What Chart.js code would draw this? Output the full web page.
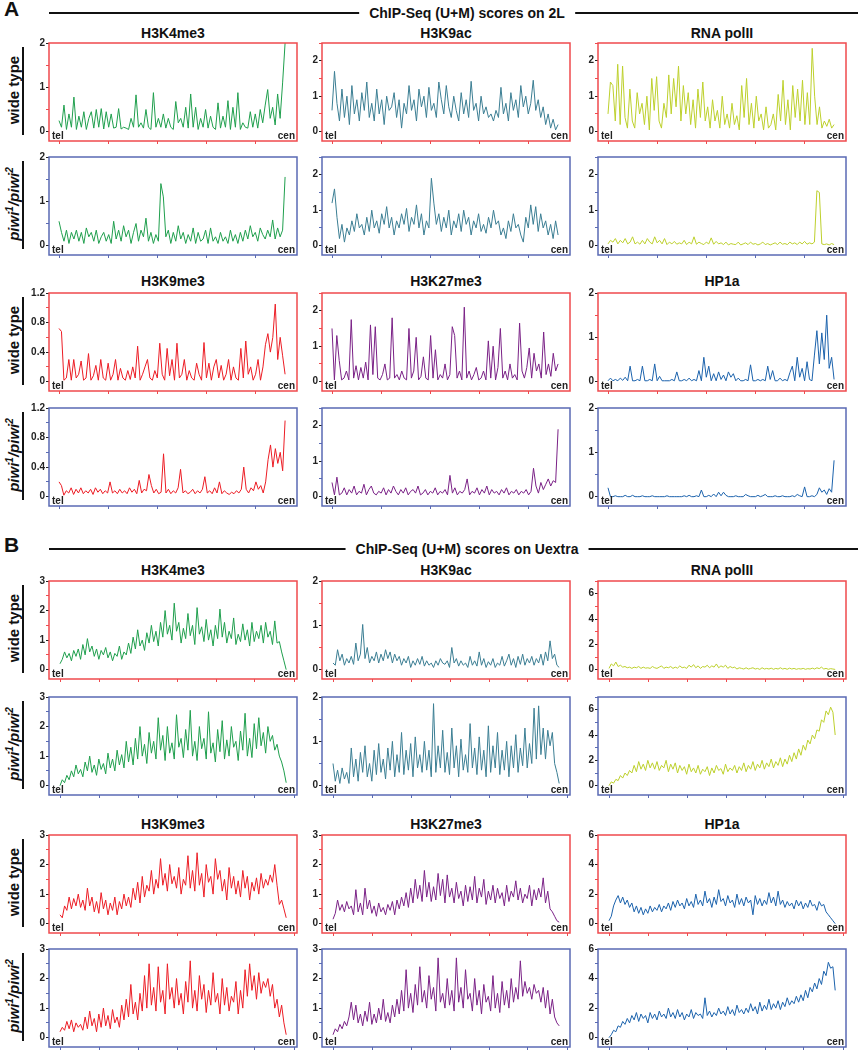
<!DOCTYPE html>
<html>
<head>
<meta charset="utf-8">
<script src="https://cdn.jsdelivr.net/npm/chart.js@4.4.0/dist/chart.umd.min.js"></script>
<style>
  body { margin: 0; background: #fff; font-family: "Liberation Sans", Arial, sans-serif; }
  #fig { position: relative; width: 858px; height: 1050px; overflow: hidden; }
  .abs { position: absolute; }
  canvas.panel { position: absolute; }
  .letter { font-weight: bold; font-size: 21px; line-height: 21px; color: #111; }
  .hdr-line { height: 2px; background: #111; }
  .hdr-text { font-weight: bold; font-size: 14px; line-height: 16px; background: #fff; padding: 0 10px; color: #111; white-space: nowrap; transform: translateX(-50%); }
  .col-title { font-weight: bold; font-size: 14px; line-height: 16px; color: #111; text-align: center; white-space: nowrap; }
  .row-label { width: 100px; height: 20px; line-height: 20px; text-align: center; font-weight: bold; font-size: 15px; color: #111; transform: rotate(-90deg); white-space: nowrap; }
  .row-label sup { font-size: 10px; line-height: 0; }
  .row-bar { width: 2px; background: #111; }
  .end-lbl { font-weight: bold; font-size: 10px; line-height: 10px; color: #222; }
</style>
</head>
<body>
<div id="fig"></div>
<script>
// ---------------------------------------------------------------------------
// Data: ChIP-Seq (U+M) scores, tel -> cen, sampled evenly along the arm
// ---------------------------------------------------------------------------

const ARM_LENGTH = { '2L': 23.0, 'Uextra': 29.0 };   // Mb, tick every 5 Mb

const TITLES_TOP = ['H3K4me3', 'H3K9ac', 'RNA polII'];
const TITLES_BOTTOM = ['H3K9me3', 'H3K27me3', 'HP1a'];

// --- 2L ---
const H3K4ME3_2L_WT = [0.25,0.1,0.6,0.05,0.4,0.1,0.78,0.05,0.35,0.1,0.45,0.05,0.3,0.45,0.08,0.5,0.1,0.52,0.06,0.45,0.1,0.4,0.08,0.1,0.52,0.06,0.1,0.08,0.05,0.3,0.1,0.83,0.1,0.2,0.08,0.5,0.1,0.05,0.88,0.1,0.3,0.1,0.4,0.08,0.3,0.1,0.05,0.68,0.2,0.3,0.1,0.55,0.08,0.85,0.1,0.55,0.05,0.3,0.1,0.5,0.08,0.35,0.1,0.05,0.65,0.08,0.35,0.1,0.7,0.05,0.55,0.1,0.88,0.05,0.2,0.1,0.08,0.45,0.1,0.4,0.08,0.5,0.2,0.6,0.95,0.3,0.55,0.15,0.85,0.3,1.1,2.0];
const H3K4ME3_2L_PIWI = [0.55,0.3,0.1,0.35,0.05,0.3,0.15,0.35,0.1,0.3,0.05,0.4,0.2,0.3,0.1,0.35,0.05,0.2,0.3,0.1,0.25,0.05,0.55,0.15,0.35,0.1,0.45,0.2,0.35,0.05,0.3,0.5,0.1,0.35,0.2,0.62,0.1,0.3,0.05,0.25,0.1,1.4,1.1,0.2,0.35,0.05,0.3,0.1,0.45,0.15,0.3,0.05,0.25,0.1,0.4,0.05,0.3,0.1,0.15,0.35,0.05,0.4,0.1,0.2,0.05,0.3,0.1,0.2,0.05,0.35,0.1,0.25,0.05,0.3,0.1,0.35,0.15,0.45,0.2,0.3,0.1,0.4,0.25,0.15,0.35,0.2,0.58,0.15,0.4,0.2,0.35,1.55];
const H3K9AC_2L_WT = [0.6,1.7,0.8,0.3,1.2,0.4,1.0,0.2,1.3,0.5,0.9,0.3,1.1,0.6,1.4,0.4,0.8,0.3,1.2,0.5,0.9,0.2,1.0,0.6,0.7,1.1,0.4,0.9,0.1,0.8,0.5,1.3,0.6,0.9,0.3,1.2,0.7,1.0,0.4,1.25,0.6,0.8,0.4,1.4,0.9,0.5,1.3,0.7,0.4,1.0,0.6,0.3,1.1,0.5,0.9,0.4,1.42,0.6,0.8,0.3,1.0,0.5,0.7,0.4,0.5,0.3,0.6,0.4,1.25,0.5,0.8,0.3,1.1,0.6,0.9,0.4,1.3,0.7,1.0,0.5,0.8,1.45,0.6,0.9,0.4,0.7,0.2,0.5,0.1,0.35,0.05,0.2];
const H3K9AC_2L_PIWI = [1.2,1.6,0.8,0.2,0.6,0.1,0.5,0.3,0.7,0.4,0.9,0.5,0.6,0.3,0.8,0.4,1.0,0.5,0.7,0.35,0.9,0.6,1.1,0.5,0.8,0.3,0.7,0.5,0.9,0.6,1.05,0.4,0.8,0.6,1.15,0.5,0.9,0.3,0.7,0.5,1.9,1.2,0.6,0.9,0.4,0.8,0.5,1.0,0.3,0.7,0.5,0.9,0.4,1.0,0.6,0.8,0.3,0.7,0.5,0.9,0.4,0.6,0.35,0.8,0.5,1.0,0.6,0.7,0.3,0.5,0.2,0.7,0.4,0.9,0.5,0.6,0.3,0.1,0.8,0.5,1.15,0.6,1.1,0.4,0.9,0.5,0.7,0.3,0.6,0.2,0.7,0.3];
const POLII_2L_WT = [0.5,1.4,1.3,0.3,1.9,0.2,1.85,0.4,0.1,1.2,0.3,0.1,1.1,0.5,0.8,0.2,1.0,0.05,1.5,0.6,1.55,0.3,0.1,0.8,0.4,1.6,0.5,1.5,0.7,1.85,0.3,1.3,0.5,1.1,0.2,0.9,0.1,1.2,0.4,1.4,0.3,0.7,0.1,0.9,0.3,0.6,0.1,1.0,0.2,0.5,0.1,0.8,0.2,0.45,0.05,1.3,0.4,1.5,0.2,0.8,0.1,1.0,0.3,0.5,0.05,0.7,0.1,0.2,0.5,0.05,1.05,0.3,1.45,0.2,0.9,0.05,1.3,0.4,1.2,0.3,1.45,0.2,1.1,0.2,2.35,1.0,0.2,0.7,0.1,0.3,0.15,0.35,0.1,0.2];
const POLII_2L_PIWI = [0.05,0.15,0.1,0.2,0.05,0.15,0.08,0.2,0.05,0.1,0.25,0.05,0.1,0.04,0.15,0.05,0.2,0.1,0.05,0.25,0.08,0.15,0.05,0.2,0.03,0.1,0.05,0.12,0.04,0.08,0.05,0.15,0.03,0.1,0.05,0.25,0.04,0.1,0.06,0.03,0.1,0.05,0.22,0.04,0.12,0.05,0.08,0.03,0.1,0.02,0.06,0.04,0.03,0.1,0.02,0.05,0.08,0.03,0.1,0.04,0.06,0.02,0.05,0.1,0.03,0.06,0.02,0.05,0.08,0.03,0.1,0.04,0.06,0.03,0.1,0.05,0.08,0.03,0.1,0.05,0.12,0.04,0.08,0.05,0.1,1.55,1.5,0.05,0.03,0.05,0.02,0.06,0.03];
const H3K9ME3_2L_WT = [0.72,0.68,0.02,0.05,0.3,0.02,0.3,0.05,0.1,0.28,0.02,0.05,0.38,0.02,0.08,0.22,0.02,0.3,0.05,0.02,0.25,0.02,0.1,0.3,0.02,0.18,0.05,0.02,0.15,0.03,0.2,0.05,0.48,0.02,0.1,0.2,0.3,0.05,0.02,0.15,0.05,0.52,0.1,0.02,0.45,0.08,0.3,0.02,0.52,0.05,0.1,0.3,0.02,0.15,0.05,0.02,0.25,0.1,0.02,0.53,0.05,0.25,0.02,0.2,0.3,0.05,0.22,0.02,0.1,0.3,0.02,0.2,0.05,0.02,0.45,0.05,0.55,0.1,0.2,0.02,0.1,0.3,0.02,0.2,0.5,0.65,0.4,0.6,1.05,0.3,0.6,0.35,0.1];
const H3K9ME3_2L_PIWI = [0.2,0.15,0.02,0.08,0.05,0.12,0.03,0.1,0.05,0.12,0.04,0.08,0.05,0.1,0.03,0.12,0.06,0.1,0.04,0.08,0.05,0.2,0.05,0.08,0.04,0.1,0.05,0.08,0.04,0.12,0.06,0.1,0.04,0.22,0.05,0.1,0.08,0.3,0.15,0.05,0.1,0.04,0.06,0.58,0.05,0.1,0.04,0.08,0.05,0.12,0.37,0.05,0.08,0.04,0.06,0.1,0.04,0.08,0.05,0.1,0.27,0.05,0.08,0.04,0.12,0.05,0.2,0.04,0.08,0.05,0.03,0.06,0.04,0.08,0.05,0.1,0.4,0.1,0.05,0.12,0.08,0.2,0.1,0.15,0.05,0.2,0.5,0.7,0.4,0.65,0.45,0.6,0.35,1.03];
const H3K27ME3_2L_WT = [1.5,0.05,1.3,0.6,0.05,0.1,0.3,0.05,1.75,0.1,0.45,0.05,0.4,0.1,0.55,0.05,1.6,0.2,1.55,0.1,0.05,0.2,0.5,0.05,0.1,1.8,0.1,0.2,0.05,0.3,0.1,0.05,1.5,0.1,0.3,1.25,0.05,0.15,0.7,0.1,0.05,1.3,0.1,0.9,0.05,0.2,0.1,0.5,0.05,0.2,1.55,1.3,0.1,0.3,0.05,2.1,0.1,0.3,0.05,0.2,0.4,0.05,0.1,0.3,0.05,1.15,0.1,1.0,0.05,0.4,1.5,0.1,0.3,0.05,0.5,0.1,0.2,0.05,1.65,0.3,0.1,0.4,0.95,0.1,0.8,0.3,0.5,0.1,1.4,0.2,0.5,0.15,0.8,0.3,0.5];
const H3K27ME3_2L_PIWI = [0.4,0.05,0.55,0.05,0.1,0.25,0.05,0.2,0.1,0.3,0.05,0.15,0.1,0.35,0.05,0.2,0.3,0.1,0.05,0.15,0.1,0.25,0.05,0.2,0.1,0.3,0.15,0.05,0.2,0.1,0.25,0.05,0.15,0.2,0.1,0.3,0.05,0.1,0.2,0.05,0.15,0.1,0.25,0.05,0.15,0.1,0.2,0.05,0.6,0.1,0.25,0.05,0.15,0.1,0.2,0.5,0.05,0.15,0.1,0.25,0.05,0.2,0.1,0.3,0.05,0.2,0.1,0.15,0.05,0.2,0.1,0.25,0.05,0.15,0.1,0.2,0.05,0.15,0.1,0.2,0.05,0.15,0.8,0.3,0.1,0.4,0.2,0.35,0.5,0.3,0.45,0.4,1.9];
const HP1A_2L_WT = [0.02,0.08,0.02,0.05,0.02,0.08,0.03,0.1,0.02,0.35,0.02,0.02,0.05,0.02,0.35,0.02,0.02,0.05,0.02,0.4,0.02,0.12,0.02,0.02,0.02,0.02,0.05,0.02,0.22,0.02,0.02,0.05,0.02,0.08,0.02,0.05,0.02,0.25,0.02,0.55,0.1,0.35,0.02,0.18,0.02,0.22,0.05,0.15,0.02,0.22,0.1,0.18,0.02,0.08,0.02,0.02,0.05,0.02,0.38,0.02,0.02,0.05,0.02,0.05,0.02,0.35,0.05,0.25,0.02,0.02,0.08,0.02,0.05,0.02,0.2,0.35,0.02,0.55,0.1,0.3,0.02,0.45,0.05,0.02,0.6,1.15,0.4,1.1,0.5,1.5,0.3,0.55,0.05];
const HP1A_2L_PIWI = [0.2,0,0,0.02,0,0,0,0.03,0,0,0.03,0,0,0,0.02,0,0,0,0.02,0,0,0,0,0,0.02,0,0,0,0,0,0,0.02,0,0.03,0,0,0.02,0,0.15,0,0,0.03,0,0.06,0,0.1,0.02,0.1,0.03,0,0,0,0.02,0,0,0,0.05,0.02,0,0,0,0.03,0,0.02,0.05,0,0,0,0.02,0,0,0.02,0,0,0,0.02,0,0.05,0.02,0,0.22,0,0,0.02,0,0.05,0.2,0.1,0.15,0.05,0.18,0.1,0.82];

// --- Uextra ---
const H3K4ME3_UX_WT = [0.2,0.35,0.6,0.4,0.55,0.3,0.65,0.45,0.7,0.35,0.85,0.5,1.05,0.6,0.8,0.45,0.7,0.35,0.65,0.5,0.75,0.4,0.6,0.3,0.55,0.45,0.8,0.35,0.6,0.5,0.9,0.55,1.1,0.7,1.35,0.8,1.0,0.65,1.25,0.9,1.5,0.95,1.3,0.8,1.6,1.1,2.0,1.2,1.5,1.0,2.25,1.3,1.6,0.9,1.4,1.05,1.9,1.15,1.5,0.85,2.1,1.2,1.45,0.95,1.7,1.0,1.35,0.8,1.5,1.05,2.05,1.1,1.6,0.9,1.3,1.05,1.75,0.85,1.2,0.95,1.55,1.0,1.35,0.8,1.6,0.95,1.3,1.05,1.5,0.9,1.6,1.1,1.3,0.85,1.65,0.9,0.95,0.6,0.3,0.0];
const H3K4ME3_UX_PIWI = [0.0,0.2,0.1,0.35,0.2,0.5,0.3,0.7,0.4,0.55,0.3,0.8,0.5,1.0,0.45,0.7,0.35,0.9,0.55,0.75,0.4,1.1,0.6,0.9,0.5,1.2,0.7,1.05,0.6,1.5,0.8,1.3,0.7,1.6,0.9,2.0,1.0,1.4,0.75,1.8,1.1,1.5,0.9,2.3,1.2,1.7,0.85,2.0,1.1,1.45,0.9,2.4,1.3,1.6,0.95,1.9,1.2,2.55,1.0,1.5,0.85,2.0,1.25,1.6,0.9,2.5,1.1,1.45,0.8,1.9,1.15,2.2,0.9,1.55,1.0,2.0,1.3,1.5,0.85,1.85,1.2,2.45,1.0,1.6,0.95,2.1,1.25,2.3,1.35,1.8,1.1,2.0,1.5,1.7,1.2,1.4,1.0,0.8,0.5,0.1];
const H3K9AC_UX_WT = [0.15,0.1,0.45,0.2,0.35,0.1,0.25,0.15,0.3,0.12,0.6,0.2,0.35,1.02,0.25,0.5,0.15,0.3,0.2,0.4,0.15,0.35,0.2,0.45,0.25,0.4,0.15,0.35,0.2,0.3,0.1,0.25,0.15,0.3,0.05,0.2,0.1,0.25,0.12,0.3,0.08,0.2,0.1,0.15,0.05,0.2,0.1,0.25,0.15,0.12,0.2,0.05,0.5,0.15,0.25,0.08,0.2,0.1,0.15,0.05,0.3,0.1,0.2,0.08,0.4,0.1,0.25,0.05,0.18,0.1,0.25,0.05,0.15,0.1,0.3,0.08,0.2,0.35,0.1,0.25,0.05,0.3,0.12,0.35,0.1,0.25,0.15,0.3,0.1,0.25,0.15,0.35,0.1,0.4,0.2,0.65,0.25,0.35,0.1,0.05];
const H3K9AC_UX_PIWI = [0.5,0.1,0.35,0.05,0.4,0.15,0.3,0.05,0.85,0.2,0.6,0.1,0.75,0.3,0.9,0.2,0.5,0.1,0.8,0.25,0.95,0.3,0.6,0.15,0.85,0.35,1.0,0.2,0.7,0.3,1.2,0.25,0.8,0.35,0.95,0.2,1.1,0.4,0.7,0.3,1.0,0.35,0.8,0.2,1.85,0.3,0.9,0.4,1.25,0.3,0.75,0.25,1.3,0.4,0.9,0.2,1.05,0.35,0.7,0.3,1.4,0.4,0.85,0.25,1.1,0.35,0.8,0.2,1.35,0.3,0.9,0.4,1.2,0.25,0.8,0.35,1.0,0.2,0.9,0.4,1.15,0.3,0.85,0.45,1.3,0.4,0.95,0.5,1.75,0.6,1.8,0.7,1.3,0.6,1.25,0.9,1.2,0.5,0.3,0.05];
const POLII_UX_WT = [0.1,0.45,0.3,0.6,0.25,0.35,0.2,0.25,0.15,0.2,0.1,0.2,0.15,0.25,0.1,0.2,0.12,0.15,0.1,0.25,0.15,0.1,0.2,0.3,0.1,0.2,0.15,0.25,0.1,0.2,0.12,0.3,0.15,0.2,0.1,0.35,0.2,0.4,0.15,0.3,0.1,0.25,0.2,0.35,0.15,0.3,0.2,0.45,0.15,0.3,0.2,0.35,0.1,0.25,0.15,0.2,0.05,0.15,0.1,0.05,0.15,0.05,0.1,0.15,0.05,0.1,0.02,0.15,0.05,0.1,0.05,0.12,0.03,0.1,0.05,0.15,0.05,0.1,0.03,0.12,0.05,0.1,0.03,0.08,0.05,0.1,0.03,0.08,0.05,0.12,0.05,0.15,0.08,0.2,0.05,0.1,0.03,0.08,0.05,0.02];
const POLII_UX_PIWI = [0.0,0.3,0.2,0.5,0.4,0.8,0.6,1.0,0.8,1.2,1.0,1.6,1.1,1.9,1.3,1.7,1.2,2.0,1.4,1.8,1.3,1.9,1.2,1.6,1.4,2.0,1.1,1.7,1.3,1.8,1.0,1.6,1.2,1.5,0.9,1.7,1.1,1.4,1.0,1.6,0.9,1.3,1.1,1.5,0.8,1.4,1.0,1.6,1.2,1.35,0.9,1.7,1.1,1.4,1.2,1.6,1.0,1.5,1.2,1.8,1.1,1.6,1.3,1.9,1.2,1.7,1.4,2.0,1.3,1.8,1.5,2.1,1.4,1.9,1.6,2.2,1.5,2.1,1.7,2.4,1.9,2.6,2.1,2.9,2.4,3.2,2.8,3.6,3.3,4.0,3.7,4.4,4.3,5.2,5.0,5.9,5.6,6.2,5.8,4.0];
const H3K9ME3_UX_WT = [0.3,0.2,0.6,0.45,0.9,0.5,0.85,0.6,1.0,0.55,0.8,0.45,1.2,0.6,0.9,0.4,0.75,0.35,1.05,0.5,0.8,0.3,0.7,0.45,0.9,0.3,0.75,0.5,1.0,0.6,0.9,0.55,1.2,0.8,1.4,0.7,1.6,0.9,1.3,1.1,1.8,1.0,1.5,1.2,2.2,1.3,1.7,1.1,2.0,1.35,1.6,1.2,1.9,1.0,1.5,1.3,2.3,1.2,1.8,1.1,2.4,1.3,1.7,0.9,2.0,1.4,1.6,1.0,2.2,1.5,1.8,1.1,1.5,0.8,1.9,1.2,1.6,1.0,1.45,0.9,1.8,1.2,1.6,0.8,1.4,1.1,1.55,1.0,1.7,1.2,1.5,1.3,1.65,1.4,2.0,1.3,0.65,0.8,0.5,0.2];
const H3K9ME3_UX_PIWI = [0.2,0.35,0.25,0.55,0.3,0.6,0.2,0.5,0.35,0.45,0.25,0.7,0.3,0.9,0.4,0.65,0.2,0.8,0.35,1.0,0.4,0.75,0.3,0.95,0.5,0.7,0.35,1.1,0.6,1.3,0.7,1.8,0.8,1.2,0.6,1.5,0.9,2.1,1.0,2.5,1.1,1.7,0.9,2.4,1.2,1.6,0.8,2.5,1.3,1.7,1.0,2.0,1.1,1.5,0.8,1.9,1.2,2.6,1.0,1.6,0.9,2.1,1.3,1.8,0.85,1.6,1.1,2.2,1.2,1.5,0.8,2.0,1.1,1.7,0.9,1.4,1.2,1.9,0.8,1.6,1.0,2.3,1.4,2.5,1.6,2.1,1.3,2.2,1.5,1.9,1.7,2.0,1.4,1.8,1.0,1.3,0.7,1.1,0.5,0.1];
const H3K27ME3_UX_WT = [0.15,0.35,0.8,0.45,0.65,0.4,0.75,0.5,0.6,0.3,1.15,0.4,0.7,0.3,1.2,0.5,0.8,0.35,0.6,0.25,0.7,0.4,0.55,0.3,0.65,0.45,0.75,0.3,0.8,0.5,0.9,0.6,1.05,0.55,1.2,0.7,1.5,0.85,1.3,0.75,1.8,0.9,1.4,0.75,1.25,0.8,1.7,0.95,1.5,0.7,1.65,0.9,1.2,0.7,1.4,0.85,1.1,0.6,1.3,0.75,1.25,0.8,1.6,0.7,1.2,0.9,1.5,0.65,1.1,0.8,1.3,0.7,1.2,0.85,1.05,0.6,1.3,0.75,1.1,0.9,1.45,0.8,1.2,0.7,1.0,0.85,1.3,0.6,1.15,0.8,1.2,0.9,1.55,0.7,1.1,0.5,0.4,0.25,0.1,0.05];
const H3K27ME3_UX_PIWI = [0.1,0.3,0.2,0.45,0.3,0.55,0.4,0.7,1.2,0.6,1.1,0.5,0.8,0.4,0.9,0.55,1.2,0.45,0.8,0.5,1.0,0.6,1.3,0.55,0.85,0.5,1.1,0.7,1.3,0.8,1.6,0.9,2.3,1.0,1.5,0.85,1.8,1.1,2.4,1.2,1.6,1.0,2.1,1.3,1.7,0.9,2.7,1.2,1.5,1.0,2.0,1.1,1.6,0.9,2.7,1.2,1.7,1.0,2.3,1.3,1.5,0.9,2.0,1.1,1.6,0.8,1.8,1.2,1.4,0.9,2.1,1.0,1.5,0.85,1.9,1.1,1.6,1.0,2.0,1.2,1.7,1.3,2.6,1.4,1.9,1.5,1.7,1.3,1.8,1.5,1.6,1.2,1.7,1.0,1.6,0.8,1.3,0.7,0.5,0.4];
const HP1A_UX_WT = [0.2,0.5,1.2,1.6,1.9,1.4,1.8,1.3,1.6,1.1,1.4,0.8,1.2,0.7,1.1,0.6,1.0,0.7,1.2,0.8,1.1,0.9,1.3,0.8,1.2,1.0,1.4,0.9,1.5,1.1,1.6,1.2,1.4,1.0,1.7,1.2,1.5,1.1,2.0,1.3,1.6,1.2,2.2,1.4,1.7,1.1,1.8,1.3,2.3,1.5,1.7,1.2,1.9,1.4,1.6,1.1,2.0,1.3,1.7,1.2,1.8,1.4,1.6,0.6,1.9,1.3,1.7,1.2,1.6,1.3,2.1,1.4,1.8,1.2,2.2,1.3,1.6,1.1,1.5,1.2,1.4,1.0,1.6,1.2,1.5,1.0,1.4,1.1,1.6,1.2,1.3,0.9,1.5,1.2,1.3,0.8,0.6,0.4,0.2,0.0];
const HP1A_UX_PIWI = [0.0,0.2,0.5,0.4,0.8,0.7,1.1,0.9,1.3,1.0,1.5,1.2,1.7,1.1,1.6,1.3,1.5,1.0,1.7,1.3,1.6,1.2,1.8,1.4,1.6,1.3,2.0,1.4,1.7,1.3,1.9,1.4,1.7,1.2,1.6,1.4,1.9,1.3,1.7,1.5,1.6,1.3,2.7,1.5,1.8,1.4,1.7,1.5,2.0,1.6,1.8,1.5,2.1,1.6,1.9,1.5,2.2,1.7,1.9,1.6,2.0,1.7,2.3,1.8,2.1,1.6,2.4,1.8,2.2,1.9,2.6,1.9,2.3,2.0,2.5,1.9,2.4,2.1,2.7,2.2,2.5,2.3,2.8,2.4,2.9,2.5,3.2,2.7,3.4,3.1,3.7,3.3,4.0,3.6,4.5,4.2,5.1,4.7,4.8,3.2];

// ---------------------------------------------------------------------------
// Look
// ---------------------------------------------------------------------------

const GREEN  = '#1f9f4d';
const TEAL   = '#3b7e93';
const LIME   = '#bdd02c';
const RED    = '#ec1c24';
const PURPLE = '#7a2186';
const BLUE   = '#1b62ac';

const FRAME_WT   = '#ef4a4d';
const FRAME_PIWI = '#5a6ab4';

const COL_LEFT = [49, 322, 598];
const BOX_W = 248;
const BOX_H = 100;
const ROW_TOP = [42, 156, 292, 407, 580, 696, 834, 948];
const DATA_OFFSET = { '2L': 10, 'Uextra': 11 };     // px from frame to tel
const PX_PER_MB = { '2L': 9.83, 'Uextra': 7.8 };

// row, col, values, line colour, yMax, labelled step, minor step, arm
const PANELS = [
  [0, 0, H3K4ME3_2L_WT,    GREEN,  2,   1,   0.5, '2L'],
  [0, 1, H3K9AC_2L_WT,     TEAL,   2.5, 1,   0.5, '2L'],
  [0, 2, POLII_2L_WT,      LIME,   2.5, 1,   0.5, '2L'],
  [1, 0, H3K4ME3_2L_PIWI,  GREEN,  2,   1,   0.5, '2L'],
  [1, 1, H3K9AC_2L_PIWI,   TEAL,   2.5, 1,   0.5, '2L'],
  [1, 2, POLII_2L_PIWI,    LIME,   2.5, 1,   0.5, '2L'],
  [2, 0, H3K9ME3_2L_WT,    RED,    1.2, 0.4, 0.2, '2L'],
  [2, 1, H3K27ME3_2L_WT,   PURPLE, 2.5, 1,   0.5, '2L'],
  [2, 2, HP1A_2L_WT,       BLUE,   2,   1,   0.5, '2L'],
  [3, 0, H3K9ME3_2L_PIWI,  RED,    1.2, 0.4, 0.2, '2L'],
  [3, 1, H3K27ME3_2L_PIWI, PURPLE, 2.5, 1,   0.5, '2L'],
  [3, 2, HP1A_2L_PIWI,     BLUE,   2,   1,   0.5, '2L'],
  [4, 0, H3K4ME3_UX_WT,    GREEN,  3,   1,   0.5, 'Uextra'],
  [4, 1, H3K9AC_UX_WT,     TEAL,   2,   1,   0.5, 'Uextra'],
  [4, 2, POLII_UX_WT,      LIME,   7,   2,   1,   'Uextra'],
  [5, 0, H3K4ME3_UX_PIWI,  GREEN,  3,   1,   0.5, 'Uextra'],
  [5, 1, H3K9AC_UX_PIWI,   TEAL,   2,   1,   0.5, 'Uextra'],
  [5, 2, POLII_UX_PIWI,    LIME,   7,   2,   1,   'Uextra'],
  [6, 0, H3K9ME3_UX_WT,    RED,    3,   1,   0.5, 'Uextra'],
  [6, 1, H3K27ME3_UX_WT,   PURPLE, 3,   1,   0.5, 'Uextra'],
  [6, 2, HP1A_UX_WT,       BLUE,   6,   2,   1,   'Uextra'],
  [7, 0, H3K9ME3_UX_PIWI,  RED,    3,   1,   0.5, 'Uextra'],
  [7, 1, H3K27ME3_UX_PIWI, PURPLE, 3,   1,   0.5, 'Uextra'],
  [7, 2, HP1A_UX_PIWI,     BLUE,   6,   2,   1,   'Uextra'],
];

const AXIS_W = 30;   // room for y tick labels, left of frame
const PAD_T = 6;
const PAD_R = 2;
const TICK_H = 6;

const fig = document.getElementById('fig');

function el(cls, css, html) {
  const d = document.createElement('div');
  d.className = 'abs ' + cls;
  Object.assign(d.style, css);
  if (html != null) d.innerHTML = html;
  fig.appendChild(d);
  return d;
}

// Frame round the plot area, coloured per genotype
const framePlugin = {
  id: 'frame',
  afterDraw(chart, args, opts) {
    const { ctx, chartArea: a } = chart;
    ctx.save();
    ctx.strokeStyle = opts.color;
    ctx.lineWidth = 1.5;
    ctx.strokeRect(a.left, a.top, a.right - a.left, a.bottom - a.top);
    ctx.restore();
  }
};

function isMajor(v, step) {
  const r = v / step;
  return Math.abs(r - Math.round(r)) < 1e-6;
}

function fmt(v) {
  return String(Math.round(v * 10) / 10);
}

function makePanel([row, col, values, color, yMax, major, minor, arm]) {
  const frameColor = row % 2 === 0 ? FRAME_WT : FRAME_PIWI;
  const left = COL_LEFT[col];
  const top = ROW_TOP[row];

  const canvas = document.createElement('canvas');
  canvas.className = 'panel';
  canvas.width = AXIS_W + BOX_W + PAD_R;
  canvas.height = PAD_T + BOX_H + TICK_H;
  canvas.style.left = (left - AXIS_W) + 'px';
  canvas.style.top = (top - PAD_T) + 'px';
  fig.appendChild(canvas);

  const len = ARM_LENGTH[arm];
  const step = len / (values.length - 1);
  const points = values.map((v, i) => ({ x: i * step, y: v }));

  const xMin = -DATA_OFFSET[arm] / PX_PER_MB[arm];
  const xMax = (BOX_W - DATA_OFFSET[arm]) / PX_PER_MB[arm];

  new Chart(canvas, {
    type: 'line',
    data: {
      datasets: [{
        data: points,
        borderColor: color,
        borderWidth: 1,
        pointRadius: 0,
        tension: 0,
      }],
    },
    plugins: [framePlugin],
    options: {
      responsive: false,
      animation: false,
      events: [],
      layout: { padding: { top: PAD_T, right: PAD_R, left: 0, bottom: 0 } },
      plugins: {
        legend: { display: false },
        tooltip: { enabled: false },
        frame: { color: frameColor },
      },
      scales: {
        x: {
          type: 'linear',
          min: xMin,
          max: xMax,
          border: { display: false },
          grid: { drawOnChartArea: false, drawTicks: true, tickLength: 3, color: frameColor, lineWidth: 1 },
          ticks: { stepSize: 5, includeBounds: false, autoSkip: false, maxRotation: 0, callback: () => '' },
          afterFit(scale) { scale.height = TICK_H; },
        },
        y: {
          min: -yMax / 9.5,
          max: yMax,
          border: { display: false },
          grid: {
            drawOnChartArea: false,
            drawTicks: true,
            tickLength: 3,
            lineWidth: 1,
            color: ctx => (ctx.tick && isMajor(ctx.tick.value, major)) ? '#222' : frameColor,
          },
          ticks: {
            stepSize: minor,
            includeBounds: false,
            autoSkip: false,
            padding: 1,
            color: '#222',
            font: { family: '"Liberation Sans", Arial, sans-serif', size: 10, weight: 'bold' },
            callback: v => isMajor(v, major) ? fmt(v) : '',
          },
          afterFit(scale) { scale.width = AXIS_W; },
        },
      },
    },
  });

  // tel / cen markers inside the frame
  el('end-lbl', { left: (left + 3) + 'px', top: (top + BOX_H - 11) + 'px' }, 'tel');
  el('end-lbl', { left: (left + BOX_W - 22) + 'px', top: (top + BOX_H - 11) + 'px', width: '20px', textAlign: 'right' }, 'cen');
}

// ---------------------------------------------------------------------------
// Figure furniture
// ---------------------------------------------------------------------------

function sectionHeader(letter, letterTop, lineY, text) {
  el('letter', { left: '4px', top: letterTop + 'px' }, letter);
  el('hdr-line', { left: '49px', width: '809px', top: (lineY - 1) + 'px' });
  el('hdr-text', { left: '467px', top: (lineY - 8) + 'px' }, text);
}

function columnTitles(titles, centerY) {
  titles.forEach((t, c) => {
    el('col-title', { left: COL_LEFT[c] + 'px', width: BOX_W + 'px', top: (centerY - 8) + 'px' }, t);
  });
}

function rowLabel(row, html) {
  const top = ROW_TOP[row];
  const cy = top + BOX_H / 2;
  el('row-label', { left: (14 - 50) + 'px', top: (cy - 10 - 2) + 'px' }, html);
  el('row-bar', { left: '22px', top: (top + 5) + 'px', height: (BOX_H - 12) + 'px' });
}

sectionHeader('A', -2, 13, 'ChIP-Seq (U+M) scores on 2L');
sectionHeader('B', 534, 549, 'ChIP-Seq (U+M) scores on Uextra');
columnTitles(TITLES_TOP, 33);
columnTitles(TITLES_BOTTOM, 281);
columnTitles(TITLES_TOP, 570);
columnTitles(TITLES_BOTTOM, 824);

const WT_LABEL = 'wide type';
const PIWI_LABEL = '<i>piwi<sup>1</sup>/piwi<sup>2</sup></i>';
for (let r = 0; r < 8; r++) {
  rowLabel(r, r % 2 === 0 ? WT_LABEL : PIWI_LABEL);
}

PANELS.forEach(makePanel);
</script>
</body>
</html>
